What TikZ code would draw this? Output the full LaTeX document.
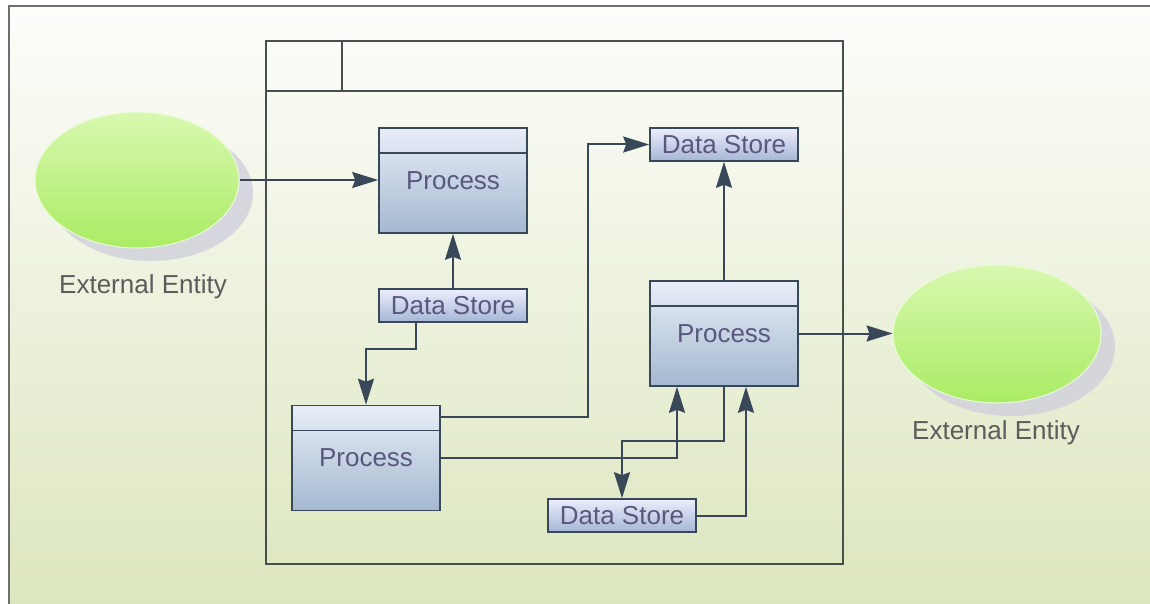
\documentclass[tikz,border=0pt]{standalone}
\usepackage{fontspec}
\setmainfont{Liberation Sans}
\usetikzlibrary{arrows.meta, positioning, shapes.geometric, shadows}
\definecolor{line1}{RGB}{56,72,88}
\definecolor{frame1}{RGB}{110,112,112}
\definecolor{pool1}{RGB}{72,80,78}
\definecolor{text1}{RGB}{90,88,124}
\definecolor{text2}{RGB}{92,92,92}
\definecolor{green1}{RGB}{216,248,176}
\definecolor{green4}{RGB}{170,236,100}
\definecolor{green0}{RGB}{236,252,218}
\definecolor{blue1}{RGB}{232,238,248}
\definecolor{blue4}{RGB}{164,184,208}
\definecolor{store1}{RGB}{236,238,252}
\definecolor{store4}{RGB}{166,182,214}
\definecolor{shadow1}{RGB}{206,206,220}
\definecolor{back1}{RGB}{253,253,251}
\definecolor{back4}{RGB}{220,230,190}

\begin{document}
\begin{tikzpicture}[x=1pt, y=-1pt]

\tikzstyle{box}		=[rectangle, draw=line1, line width=1.6pt, inner sep=0pt, text centered]
\tikzstyle{proc}	=[box, top color=blue1, bottom color=blue4, minimum width=148pt, minimum height=105pt, text=text1,
						path picture={\draw[line1, line width=1.6pt] ([yshift=-25pt]path picture bounding box.north west)
							-- ([yshift=-25pt]path picture bounding box.north east);}]
\tikzstyle{store}	=[box, top color=store1, bottom color=store4, minimum width=148pt, minimum height=33pt, text=text1]
\tikzstyle{entity}	=[ellipse, draw=green0, line width=1pt, top color=green1, bottom color=green4, inner sep=0pt,
						drop shadow={shadow xshift=14pt, shadow yshift=-13pt, fill=shadow1, opacity=0.75}]
\tikzstyle{caption}	=[text=text2]
\tikzstyle{flow}	=[line1, line width=2pt, -{Stealth[length=26pt, width=16pt, inset=3pt]}]
\fontsize{26}{30}\selectfont

\useasboundingbox (0,0) rectangle (1150,604);
\shade[top color=back1, bottom color=back4] (9,6) rectangle (1150,604);
\draw[frame1, line width=2pt] (9,604) -- (9,6) -- (1150,6);

% pool with lane header
\draw[pool1, line width=1.6pt] (266,41) rectangle (843,564);
\draw[pool1, line width=1.6pt] (266,91) -- (843,91);
\draw[pool1, line width=1.6pt] (342,41) -- (342,91);

\node[entity, minimum width=204pt, minimum height=136pt]	(e1) at (137,180)	{};
\node[caption]	(l1) at (143,287)	{External Entity};
\node[entity, minimum width=208pt, minimum height=138pt]	(e2) at (997,334)	{};
\node[caption]	(l2) at (996,433)	{External Entity};

\node[proc]		(p1) at (453,180.5)	{Process};
\node[store]	(ds1) at (453,305.5)	{Data Store};
\node[proc]		(p2) at (366,458)	{Process};
\node[store]	(ds2) at (724,144.5)	{Data Store};
\node[proc]		(p3) at (724,333.5)	{Process};
\node[store]	(ds3) at (622,515.5)	{Data Store};

\draw [flow]  (e1.east) -- (e1.east -| p1.west);
\draw [flow]  (ds1.north) -- (p1.south);
\draw [flow]  ([xshift=-37pt]ds1.south) -- ++(0,26) -| (p2.north);
\draw [flow]  ([yshift=41pt]p2.east) -- ++(147,0) |- (ds2.west);
\draw [flow]  (p2.east) -| ([xshift=-47pt]p3.south);
\draw [flow]  (p3.north) -- (ds2.south);
\draw [flow]  (p3.east) -- (p3.east -| e2.west);
\draw [flow]  (p3.south) -- ++(0,54) -| (ds3.north);
\draw [flow]  (ds3.east) -| ([xshift=22pt]p3.south);

\end{tikzpicture}
\end{document}
